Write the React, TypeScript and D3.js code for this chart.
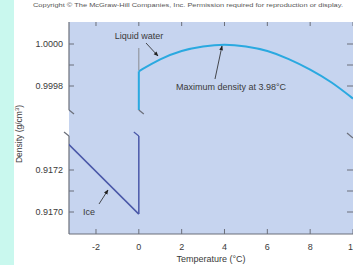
import React from "react";
import * as d3 from "d3";

const xTicks = [-2, 0, 2, 4, 6, 8, 10];
const upperTicks = [1.0, 0.9999, 0.9998];
const upperLabels = ["1.0000", "", "0.9998"];
const lowerTicks = [0.9172, 0.9171, 0.917];
const lowerLabels = ["0.9172", "", "0.9170"];

const waterTemp = [0, 1, 2, 3, 4, 5, 6, 7, 8, 9, 10];
const waterDensity = [0.99987, 0.99993, 0.99997, 0.99999, 1.0, 0.99999, 0.99997, 0.99993, 0.99988, 0.99982, 0.99974];

const iceTemp = [-3.4, 0];
const iceDensity = [0.917335, 0.91699];

const W = 353;
const H = 265;
const L = 69, R = 353, T = 22, B = 234;
const breakUpper = 110;
const breakLower = 136;

export default function App() {
  const x = d3.scaleLinear().domain([-3.26, 10]).range([L, R]);
  const yU = d3.scaleLinear().domain([0.9998, 1.0]).range([86, 44]);
  const yL = d3.scaleLinear().domain([0.917, 0.9172]).range([212, 170]);

  const waterData = waterTemp.map((t, i) => [t, waterDensity[i]] as [number, number]);
  const iceData = iceTemp.map((t, i) => [t, iceDensity[i]] as [number, number]);

  const waterLine = d3.line<[number, number]>().x(d => x(d[0])).y(d => yU(d[1])).curve(d3.curveBasis)(waterData) || "";
  const iceLine = d3.line<[number, number]>().x(d => x(d[0])).y(d => yL(d[1]))(iceData) || "";

  const axisCol = "#6b6f7a";
  const textCol = "#3a3a3a";
  const font = "Liberation Sans, Arial, sans-serif";
  const x0 = x(0);
  const fs = 9;

  return (
    <svg width={W} height={H} style={{ position: "absolute", left: 0, top: 0 }} fontFamily={font}>
      <defs>
        <clipPath id="plotclip">
          <rect x={L} y={T} width={R - L} height={B - T} />
        </clipPath>
        <marker id="ah" viewBox="0 0 10 10" refX="9" refY="5" markerWidth="6" markerHeight="6" orient="auto">
          <path d="M0,1 L10,5 L0,9 z" fill="#222" />
        </marker>
      </defs>
      <rect x={0} y={0} width={W} height={H} fill="#c9f8ee" />
      <rect x={14} y={0} width={W - 14} height={H} fill="#ffffff" />
      <text x={188} y={7} fontSize={5.6} fill="#555" textAnchor="middle" textLength={310} lengthAdjust="spacingAndGlyphs">
        Copyright © The McGraw-Hill Companies, Inc. Permission required for reproduction or display.
      </text>
      <rect x={L} y={T} width={R - L} height={B - T} fill="#c6d4ef" />

      {/* left axis */}
      <line x1={L} x2={L} y1={T} y2={breakUpper} stroke={axisCol} strokeWidth={1.2} />
      <line x1={L} y1={breakUpper} x2={L + 5} y2={breakUpper + 4} stroke={axisCol} strokeWidth={1.2} />
      <line x1={L - 5} y1={breakLower - 4} x2={L} y2={breakLower} stroke={axisCol} strokeWidth={1.2} />
      <line x1={L} x2={L} y1={breakLower} y2={B} stroke={axisCol} strokeWidth={1.2} />
      {/* right axis break marks */}
      <line x1={R - 6} y1={breakLower - 3} x2={R} y2={breakLower + 2} stroke={axisCol} strokeWidth={1.2} />
      {/* bottom axis */}
      <line x1={L} x2={R} y1={B} y2={B} stroke={axisCol} strokeWidth={1.2} />

      {xTicks.map(t => (
        <g key={"xt" + t}>
          <line x1={x(t)} x2={x(t)} y1={B} y2={B - 5} stroke={axisCol} strokeWidth={1} />
          <line x1={x(t)} x2={x(t)} y1={T} y2={T + 4} stroke={axisCol} strokeWidth={1} />
          <text x={x(t)} y={250} fontSize={fs} fill={textCol} textAnchor="middle">{t}</text>
        </g>
      ))}
      <text x={211} y={262} fontSize={fs} fill={textCol} textAnchor="middle">Temperature (°C)</text>

      {upperTicks.map((v, i) => (
        <g key={"yu" + i}>
          <line x1={L} x2={L + 5} y1={yU(v)} y2={yU(v)} stroke={axisCol} strokeWidth={1} />
          <line x1={R - 6} x2={R} y1={yU(v)} y2={yU(v)} stroke={axisCol} strokeWidth={1} />
          <text x={63} y={yU(v) + 3} fontSize={fs} fill={textCol} textAnchor="end">{upperLabels[i]}</text>
        </g>
      ))}
      {lowerTicks.map((v, i) => (
        <g key={"yl" + i}>
          <line x1={L} x2={L + 5} y1={yL(v)} y2={yL(v)} stroke={axisCol} strokeWidth={1} />
          <line x1={R - 6} x2={R} y1={yL(v)} y2={yL(v)} stroke={axisCol} strokeWidth={1} />
          <text x={63} y={yL(v) + 3} fontSize={fs} fill={textCol} textAnchor="end">{lowerLabels[i]}</text>
        </g>
      ))}
      <text transform={`translate(22,${134}) rotate(-90)`} fontSize={8.5} fill={textCol} textAnchor="middle">
        Density (g/cm<tspan dy={-3} fontSize={6}>3</tspan><tspan dy={3}>)</tspan>
      </text>

      <g clipPath="url(#plotclip)">
        {/* liquid water */}
        <line x1={x0} x2={x0} y1={yU(waterDensity[0])} y2={breakUpper} stroke="#2aa9e0" strokeWidth={2} />
        <path d={waterLine} fill="none" stroke="#2aa9e0" strokeWidth={2} />
        {/* ice */}
        <path d={iceLine} fill="none" stroke="#4a58a8" strokeWidth={1.5} />
        <line x1={x0} x2={x0} y1={yL(iceDensity[1])} y2={breakLower} stroke="#4a58a8" strokeWidth={1.5} />
      </g>
      <line x1={x0} y1={breakUpper} x2={x0 + 5} y2={breakUpper + 4} stroke={axisCol} strokeWidth={1.2} />
      <line x1={x0 - 5} y1={breakLower - 4} x2={x0} y2={breakLower} stroke="#4a58a8" strokeWidth={1.2} />
      <line x1={x0} x2={x0} y1={48} y2={yU(waterDensity[0]) - 1} stroke="#7a7a7a" strokeWidth={0.8} />

      {/* annotations */}
      <text x={139} y={39} fontSize={fs} fill={textCol} textAnchor="middle">Liquid water</text>
      <line x1={146} y1={43} x2={158} y2={56} stroke="#222" strokeWidth={0.8} markerEnd="url(#ah)" />
      <text x={231} y={90} fontSize={fs} fill={textCol} textAnchor="middle">Maximum density at 3.98°C</text>
      <line x1={215} y1={79} x2={222} y2={46} stroke="#222" strokeWidth={0.8} markerEnd="url(#ah)" />
      <text x={89} y={215} fontSize={fs} fill={textCol} textAnchor="middle">Ice</text>
      <line x1={99} y1={204} x2={108} y2={190} stroke="#222" strokeWidth={0.8} markerEnd="url(#ah)" />
    </svg>
  );
}
